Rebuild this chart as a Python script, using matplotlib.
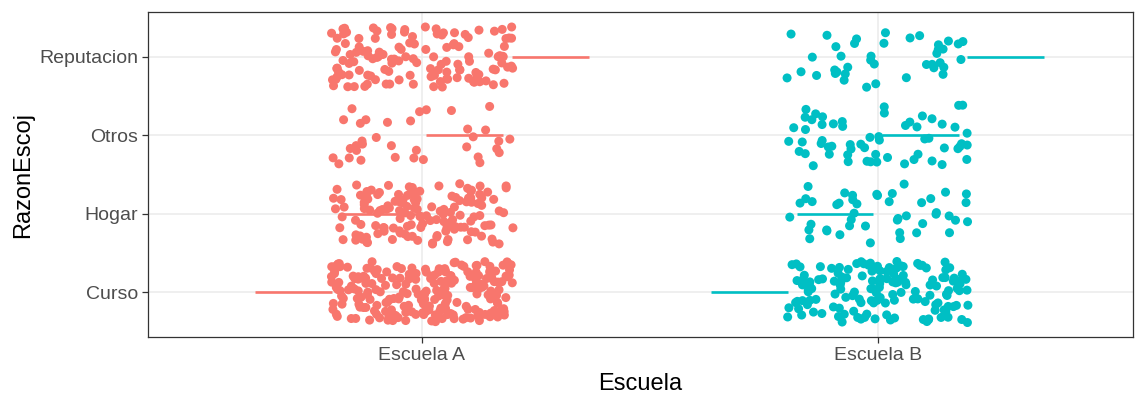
import numpy as np
import matplotlib
matplotlib.use("Agg")
import matplotlib.pyplot as plt

plt.rcParams['font.family'] = ['Liberation Sans', 'DejaVu Sans']

# Categories and number of students per (school, reason)
escuelas = ["Escuela A", "Escuela B"]
razones = ["Curso", "Hogar", "Otros", "Reputacion"]
conteo_a = [220, 140, 35, 130]
conteo_b = [145, 45, 60, 40]
conteos = [conteo_a, conteo_b]
colores = ["#F8766D", "#00BFC4"]

# Jitter amounts (as in geom_jitter) and dodge layout of the reference lines
jit_x, jit_y = 0.2, 0.39
dodge_w = 0.75
seg_w = 0.9 * dodge_w / len(razones)

fig = plt.figure(figsize=(11.42, 3.97), dpi=100)
ax = fig.add_axes([148 / 1142, 1 - 337 / 397, (1133 - 148) / 1142, (337 - 12) / 397])

rng = np.random.default_rng(7)
for i, (esc, cnt, col) in enumerate(zip(escuelas, conteos, colores)):
    xc = i + 1
    # dodged horizontal reference lines, one per reason
    for j, raz in enumerate(razones):
        off = (j - (len(razones) - 1) / 2) * dodge_w / len(razones)
        ax.plot([xc + off - seg_w / 2, xc + off + seg_w / 2], [j + 1, j + 1],
                color=col, lw=1.9, solid_capstyle='butt', zorder=2)
    # jittered points
    for j, n in enumerate(cnt):
        xs = xc + rng.uniform(-jit_x, jit_x, n)
        ys = (j + 1) + rng.uniform(-jit_y, jit_y, n)
        ax.scatter(xs, ys, s=42, color=col, edgecolors='none', zorder=3)

ax.set_xlim(0.399, 2.56)
ax.set_ylim(0.426, 4.574)
ax.set_xticks([1, 2])
ax.set_xticklabels(escuelas)
ax.set_yticks([1, 2, 3, 4])
ax.set_yticklabels(razones)
ax.set_xlabel("Escuela", fontsize=17, color="black", labelpad=7)
ax.set_ylabel("RazonEscoj", fontsize=17, color="black", labelpad=4)

ax.grid(True, color="#EBEBEB", lw=1.1, zorder=0)
ax.set_axisbelow(True)
ax.tick_params(axis='both', colors="#333333", labelcolor="#4D4D4D", labelsize=14,
               length=4, width=0.9, pad=3)
for sp in ax.spines.values():
    sp.set_color("#333333")
    sp.set_linewidth(0.9)

fig.savefig("out.png", dpi=100)
